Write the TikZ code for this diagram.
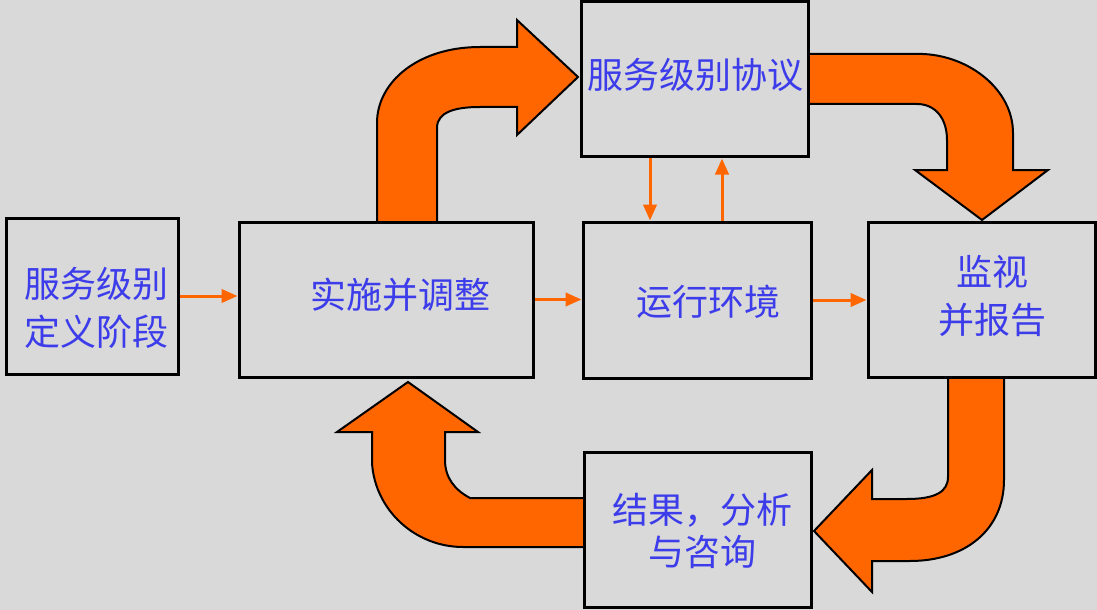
\documentclass[tikz,border=0pt]{standalone}
\usepackage{fontspec}
\newfontfamily\cjk{Noto Sans CJK SC}
\usetikzlibrary{arrows.meta,fit}
\definecolor{bg}{RGB}{217,217,217}
\definecolor{org}{RGB}{255,102,0}
\definecolor{txtblue}{RGB}{60,60,235}
\tikzset{
  box/.style={draw=black, line width=2.25pt, fill=bg, inner sep=0pt},
  txt/.style={text=txtblue, font=\cjk\fontsize{27}{36}\selectfont, align=center, inner sep=0pt},
  bigarrow/.style={fill=org, draw=black, line width=1.5pt, line join=miter},
  sarrow/.style={draw=org, line width=2.25pt, -{Triangle[length=12pt,width=10pt]}}
}
\begin{document}
\begin{tikzpicture}[x=0.75pt,y=-0.75pt]
\fill[bg] (0,0) rectangle (1097,610);
\useasboundingbox (0,0) rectangle (1097,610);

% big arrows
\draw[bigarrow] (377,222) -- (377,123) .. controls (377,82) and (418,47) .. (480,47)
  -- (517,47) -- (517,20) -- (578,77) -- (517,135) -- (517,107) -- (480,107)
  .. controls (455,107) and (437,112) .. (437,128) -- (437,222) -- cycle;
\draw[bigarrow] (808,54) -- (923,54) .. controls (970,56) and (1013,90) .. (1013,133)
  -- (1013,170) -- (1048,170) -- (982,220) -- (915,170) -- (947,170) -- (947,140)
  .. controls (947,118) and (935,104) .. (917,104) -- (808,104) -- cycle;
\draw[bigarrow] (948,377) -- (948,477) .. controls (948,492) and (935,499) .. (907,499)
  -- (872,499) -- (872,470) -- (814,531) -- (872,592) -- (872,561) -- (910,561)
  .. controls (965,561) and (1004,530) .. (1004,480) -- (1004,377) -- cycle;
\draw[bigarrow] (584,498) -- (470,498) .. controls (455,490) and (445,478) .. (445,460)
  -- (445,432) -- (478,432) -- (408,382) -- (337,432) -- (372,432) -- (372,463)
  .. controls (375,510) and (415,547) .. (463,547) -- (584,547) -- cycle;

% boxes
\node[box, fit={(6,218)(178,374)}] (b1) {};
\node[box, fit={(239,222)(533,377)}] (b2) {};
\node[box, fit={(581,2)(808,157)}] (b3) {};
\node[box, fit={(583,222)(811,378)}] (b4) {};
\node[box, fit={(868,222)(1095,377)}] (b5) {};
\node[box, fit={(584,452)(811,607)}] (b6) {};

% texts
\node[txt] (t1) at (97,308) {服务级别\\定义阶段};
\node[txt] (t2) at (400,295) {实施并调整};
\node[txt] (t3) at (695,75) {服务级别协议};
\node[txt] (t4) at (708,302) {运行环境};
\node[txt] (t5) at (992,296) {监视\\并报告};
\node[txt, font=\cjk\fontsize{27}{32}\selectfont] (t6) at (702,531) {结果，分析\\与咨询};

% small connectors
\coordinate (d1) at (650,0);
\coordinate (d2) at (722,0);
\draw[sarrow] (b1.east) -- (b1.east -| b2.west);
\draw[sarrow] (b2.east) -- (b2.east -| b4.west);
\draw[sarrow] (b4.east) -- (b4.east -| b5.west);
\draw[sarrow] (b3.south -| d1) -- (b4.north -| d1);
\draw[sarrow] (b4.north -| d2) -- (b3.south -| d2);
\end{tikzpicture}
\end{document}
